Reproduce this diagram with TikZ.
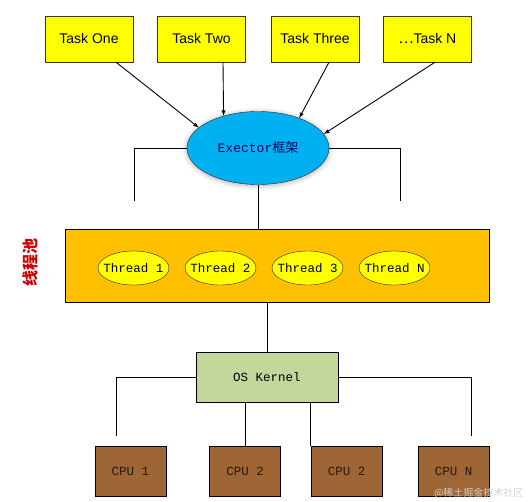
\documentclass[tikz,border=0pt]{standalone}
\usepackage{fontspec}
\setmainfont{Liberation Sans}
\setmonofont{Liberation Mono}
\newfontfamily\cjk{Noto Sans CJK SC}
\usepackage{tikz}
\usetikzlibrary{shapes.geometric}
\usetikzlibrary{shadows.blur}
\usetikzlibrary{positioning}
\usetikzlibrary{arrows}
\definecolor{taskyellow}{HTML}{FFFF00}
\definecolor{execblue}{HTML}{00B0F0}
\definecolor{poolorange}{HTML}{FFC000}
\definecolor{kernelgreen}{HTML}{C4D79B}
\definecolor{cpubrown}{HTML}{9E6634}
\definecolor{labelred}{HTML}{D00000}
\tikzset{
task_box/.style={rectangle, draw=black!80, fill=taskyellow, minimum width=88pt, minimum height=46pt, font=\fontsize{14}{16}\selectfont},
exec_item/.style={ellipse, draw=black!85, fill=execblue, minimum width=142pt, minimum height=73pt, text=blue!35!black, font=\fontsize{13}{15}\selectfont\ttfamily, blur shadow={shadow xshift=0pt, shadow yshift=-1pt, shadow blur radius=5pt, shadow opacity=35}},
pool_box/.style={rectangle, draw=black, fill=poolorange, minimum width=424pt, minimum height=73pt},
thread_item/.style={ellipse, draw=black!70!brown, fill=taskyellow, minimum width=71pt, minimum height=34pt, inner xsep=-5pt, inner ysep=4pt, font=\fontsize{12.5}{14}\selectfont\ttfamily},
kernel_box/.style={rectangle, draw=black, fill=kernelgreen, minimum width=142pt, minimum height=50pt, font=\fontsize{12.5}{14}\selectfont\ttfamily},
cpu_box/.style={rectangle, draw=black, fill=cpubrown, minimum width=71pt, minimum height=50pt, text=black!80!brown, font=\fontsize{12.5}{14}\selectfont\ttfamily},
link/.style={draw=black, line width=0.9pt}
}
\begin{document}
\begin{tikzpicture}[x=1pt, y=-1pt]
    \useasboundingbox (0,0) rectangle (529,502);
    % tasks
    \node[task_box] (task_1) at (89,39) {Task One};
    \node[task_box] (task_2) at (201.5,39) {Task Two};
    \node[task_box] (task_3) at (315,39) {Task Three};
    \node[task_box] (task_n) at (427.5,39) {{\cjk …}Task N};
    \node[exec_item] (exec) at (258,148) {Exector{\cjk 框架}};

    \draw[link, -latex] ([xshift=27pt]task_1.south) -- (exec.161);
    \draw[link, -latex] ([xshift=21.5pt]task_2.south) -- (exec.137);
    \draw[link, -latex] ([xshift=14pt]task_3.south) -- (exec.36);
    \draw[link, -latex] ([xshift=7.5pt]task_n.south) -- (exec.12);

    \coordinate (exec_left) at (134,201);
    \coordinate (exec_right) at (400,201);
    \draw[link] (exec.west) -| (exec_left);
    \draw[link] (exec.east) -| (exec_right);

    % thread pool
    \node[pool_box] (pool) at (277,265.5) {};
    \node[thread_item] (thread_1) at (133.5,268) {Thread 1};
    \node[thread_item] (thread_2) at (220.5,268) {Thread 2};
    \node[thread_item] (thread_3) at (307.5,268) {Thread 3};
    \node[thread_item] (thread_n) at (394.5,268) {Thread N};
    \node[rotate=90, text=labelred, font=\cjk\bfseries\fontsize{16}{18}\selectfont] (pool_label) at (30,262) {线程池};
    \draw[link] (exec.south) -- (exec.south |- pool.north);

    % kernel and cpus
    \node[kernel_box] (kernel) at (267,377) {OS Kernel};
    \draw[link] (kernel.north |- pool.south) -- (kernel.north);
    \node[cpu_box] (cpu_1) at (130.5,471) {CPU 1};
    \node[cpu_box] (cpu_2) at (245,471) {CPU 2};
    \node[cpu_box] (cpu_3) at (346.5,471) {CPU 2};
    \node[cpu_box] (cpu_n) at (453.5,471) {CPU N};

    \coordinate (kernel_left) at (116,436);
    \coordinate (kernel_right) at (471,436);
    \draw[link] (kernel.west) -| (kernel_left);
    \draw[link] (kernel.east) -| (kernel_right);
    \draw[link] (kernel.south -| cpu_2.north) -- (cpu_2.north);
    \draw[link] (kernel.south -| cpu_3.north west) -- (cpu_3.north west);

    \node[text=gray!35, font=\cjk\fontsize{10}{12}\selectfont, anchor=east] (mark) at (527,493) {@稀土掘金技术社区};
\end{tikzpicture}
\end{document}
